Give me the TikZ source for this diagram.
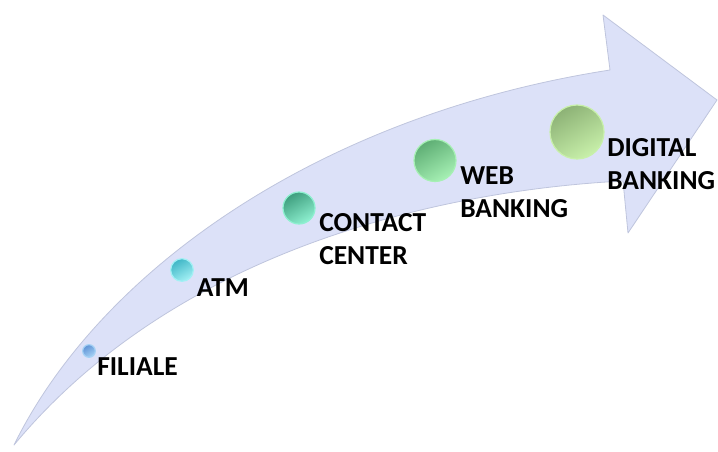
\documentclass[tikz,border=0pt]{standalone}
\usepackage{fontspec}
\setmainfont{Carlito}
\definecolor{arrowfill}{HTML}{DCE1F8}
\definecolor{arrowline}{HTML}{BFC5DD}
\definecolor{ballA1}{HTML}{5F93D6}
\definecolor{ballA2}{HTML}{A6D2F5}
\definecolor{ballB1}{HTML}{3FB6C6}
\definecolor{ballB2}{HTML}{A2F0F4}
\definecolor{ballC1}{HTML}{3E9E7E}
\definecolor{ballC2}{HTML}{8EF0D0}
\definecolor{ballD1}{HTML}{5EAE74}
\definecolor{ballD2}{HTML}{A6F0B4}
\definecolor{ballE1}{HTML}{8DB276}
\definecolor{ballE2}{HTML}{C8F0AA}
\begin{document}
\begin{tikzpicture}[x=0.75pt,y=-0.75pt,
  stage/.style={font=\fontsize{20.6}{24.8}\selectfont\bfseries, text=black,
    anchor=north west, inner sep=0pt, align=left},
  ball/.style n args={3}{circle, inner sep=0pt, minimum size=#1,
    left color=#2, right color=#3, shading angle=30, draw=#3, line width=0.9pt}]
\useasboundingbox (0,0) rectangle (718,452);

% curved band with arrow head
\path[fill=arrowfill, draw=arrowline, line width=0.6pt, line join=round]
  (14,445) .. controls (100,270) and (320,115) .. (610,70)
  -- (603,15) -- (717,100) -- (628,233) -- (623,181)
  .. controls (450,190) and (180,245) .. (14,445) -- cycle;

% milestones
\node[ball={9.5pt}{ballA1}{ballA2}] (b1) at (89,351) {};
\node[ball={17pt}{ballB1}{ballB2}] (b2) at (182,270) {};
\node[ball={24pt}{ballC1}{ballC2}] (b3) at (299,208) {};
\node[ball={31.5pt}{ballD1}{ballD2}] (b4) at (435,160.5) {};
\node[ball={40.5pt}{ballE1}{ballE2}] (b5) at (577,132) {};

\node[stage] (l1) at (97,357) {FILIALE};
\node[stage] (l2) at (196.5,278) {ATM};
\node[stage] (l3) at (319,213) {CONTACT\\CENTER};
\node[stage] (l4) at (460,166.5) {WEB\\BANKING};
\node[stage] (l5) at (607,138) {DIGITAL\\BANKING};
\end{tikzpicture}
\end{document}
